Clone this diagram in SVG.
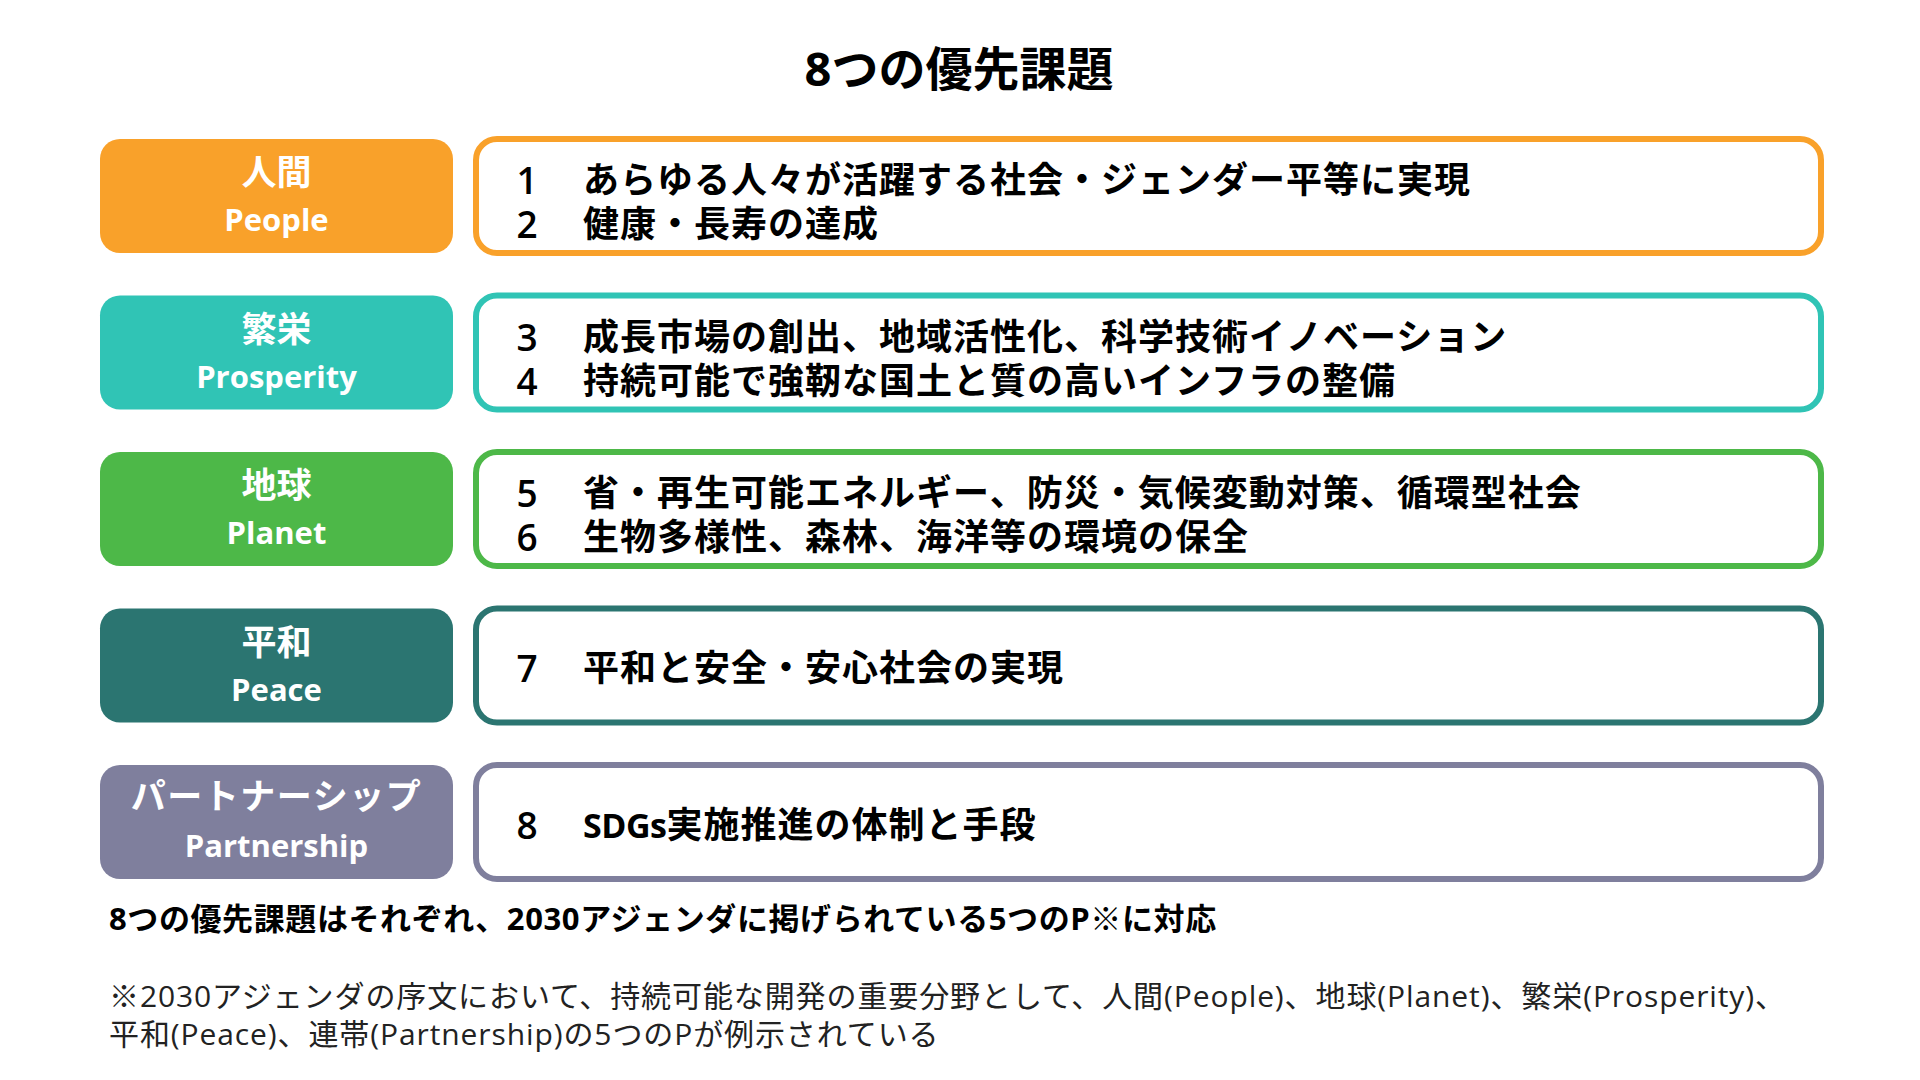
<svg xmlns="http://www.w3.org/2000/svg" width="1920" height="1080" viewBox="0 0 1920 1080">
<style>
.t{font-family:"Open Sans","Noto Sans CJK JP",sans-serif;}
.lab{font-family:"Open Sans","Noto Sans CJK JP",sans-serif;fill:#fff;font-weight:700;text-anchor:middle;}
.jp{font-size:35px;}
.en{font-size:31px;}
.num{font-family:"Open Sans","Noto Sans CJK JP",sans-serif;font-size:37px;font-weight:600;text-anchor:middle;fill:#000;}
.item{font-family:"Open Sans","Noto Sans CJK JP",sans-serif;font-size:36px;font-weight:700;letter-spacing:1px;fill:#000;}
.box{fill:#fff;stroke-width:6;}
</style>
<rect width="1920" height="1080" fill="#fff"/>
<text class="t" x="959" y="86" font-size="47" font-weight="700" text-anchor="middle" fill="#000">8つの優先課題</text>

<g id="people">
<rect x="100" y="139" width="353" height="114" rx="20" fill="#F9A12A"/>
<text class="lab jp" x="276.5" y="185">人間</text>
<text class="lab en" x="276.5" y="231">People</text>
<rect class="box" x="476" y="139" width="1345" height="114" rx="21" stroke="#F9A12A"/>
<text class="num" x="527" y="194">1</text>
<text class="item" x="583" y="193">あらゆる人々が活躍する社会・ジェンダー平等に実現</text>
<text class="num" x="527" y="238">2</text>
<text class="item" x="583" y="237">健康・長寿の達成</text>
</g>

<g id="prosperity">
<rect x="100" y="295.5" width="353" height="114" rx="20" fill="#30C4B5"/>
<text class="lab jp" x="276.5" y="341.5">繁栄</text>
<text class="lab en" x="276.5" y="387.5">Prosperity</text>
<rect class="box" x="476" y="295.5" width="1345" height="114" rx="21" stroke="#30C4B5"/>
<text class="num" x="527" y="350.5">3</text>
<text class="item" x="583" y="349.5">成長市場の創出、地域活性化、科学技術イノベーション</text>
<text class="num" x="527" y="394.5">4</text>
<text class="item" x="583" y="393.5">持続可能で強靭な国土と質の高いインフラの整備</text>
</g>

<g id="planet">
<rect x="100" y="452" width="353" height="114" rx="20" fill="#4DB848"/>
<text class="lab jp" x="276.5" y="498">地球</text>
<text class="lab en" x="276.5" y="544">Planet</text>
<rect class="box" x="476" y="452" width="1345" height="114" rx="21" stroke="#4DB848"/>
<text class="num" x="527" y="507">5</text>
<text class="item" x="583" y="506">省・再生可能エネルギー、防災・気候変動対策、循環型社会</text>
<text class="num" x="527" y="551">6</text>
<text class="item" x="583" y="550">生物多様性、森林、海洋等の環境の保全</text>
</g>

<g id="peace">
<rect x="100" y="608.5" width="353" height="114" rx="20" fill="#2B7571"/>
<text class="lab jp" x="276.5" y="654.5">平和</text>
<text class="lab en" x="276.5" y="700.5">Peace</text>
<rect class="box" x="476" y="608.5" width="1345" height="114" rx="21" stroke="#2B7571"/>
<text class="num" x="527" y="682">7</text>
<text class="item" x="583" y="681">平和と安全・安心社会の実現</text>
</g>

<g id="partnership">
<rect x="100" y="765" width="353" height="114" rx="20" fill="#7F7F9D"/>
<text class="lab jp" x="276.5" y="809" letter-spacing="1.5">パートナーシップ</text>
<text class="lab en" x="276.5" y="857">Partnership</text>
<rect class="box" x="476" y="765" width="1345" height="114" rx="21" stroke="#7F7F9D"/>
<text class="num" x="527" y="839">8</text>
<text class="item" x="583" y="838"><tspan font-size="34" letter-spacing="-0.5">SDGs</tspan>実施推進の体制と手段</text>
</g>

<g id="connectors"></g>

<g id="notes">
<text class="t" x="109" y="930" font-size="31" font-weight="700" letter-spacing="0.6" fill="#000">8つの優先課題はそれぞれ、2030アジェンダに掲げられている5つのP※に対応</text>
<text class="t" x="109" y="1007" font-size="30" letter-spacing="0.9" fill="#222">※2030アジェンダの序文において、持続可能な開発の重要分野として、人間(People)、地球(Planet)、繁栄(Prosperity)、</text>
<text class="t" x="109" y="1045" font-size="30" letter-spacing="0.9" fill="#222">平和(Peace)、連帯(Partnership)の5つのPが例示されている</text>
</g>
</svg>
